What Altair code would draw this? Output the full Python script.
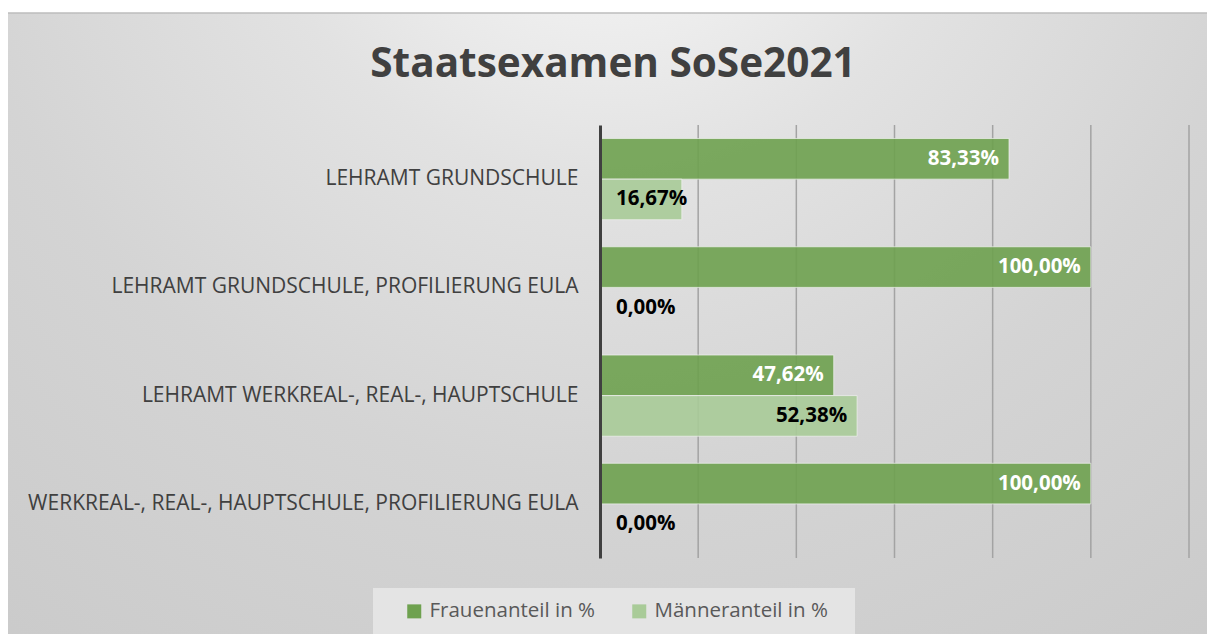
import altair as alt
import pandas as pd

categories = [
    "LEHRAMT GRUNDSCHULE",
    "LEHRAMT GRUNDSCHULE, PROFILIERUNG EULA",
    "LEHRAMT WERKREAL-, REAL-, HAUPTSCHULE",
    "WERKREAL-, REAL-, HAUPTSCHULE, PROFILIERUNG EULA",
]
series = ["Frauenanteil in %", "Männeranteil in %"]
frauen = [83.33, 100.00, 47.62, 100.00]
maenner = [16.67, 0.00, 52.38, 0.00]
grid_ticks = [20, 40, 60, 80, 100, 120]
title_text = "Staatsexamen SoSe2021"

rows = []
for i, c in enumerate(categories):
    for s, v in ((series[0], frauen[i]), (series[1], maenner[i])):
        rows.append({"cat": c, "series": s, "value": v,
                     "label": f"{v:.2f}".replace(".", ",") + "%"})
df = pd.DataFrame(rows)

W, H = 589, 433
PAD = {"left": 592, "top": 117, "right": 18, "bottom": 76}
FONT = "Open Sans"

one = pd.DataFrame({"a": [0]})

bg = alt.Chart(one).mark_rect(
    color=alt.RadialGradient(
        gradient="radial",
        x1=0.5, y1=0.08, r1=0.0,
        x2=0.5, y2=0.08, r2=1.0,
        stops=[
            alt.GradientStop(color="#fcfcfc", offset=0.0),
            alt.GradientStop(color="#e2e2e2", offset=0.3),
            alt.GradientStop(color="#d4d4d4", offset=0.55),
            alt.GradientStop(color="#c6c6c6", offset=1.0),
        ],
    ),
).encode(
    x=alt.value(-PAD["left"]), x2=alt.value(W + PAD["right"]),
    y=alt.value(-112), y2=alt.value(H + PAD["bottom"]),
)

topline = alt.Chart(one).mark_rule(color="#bdbdbd", strokeWidth=1.5).encode(
    x=alt.value(-PAD["left"]), x2=alt.value(W + PAD["right"]),
    y=alt.value(-112),
)

title = alt.Chart(pd.DataFrame({"t": [title_text]})).mark_text(
    font=FONT, fontSize=40.5, fontWeight="bold", color="#404040",
    align="center", baseline="middle",
).encode(x=alt.value(13), y=alt.value(-60), text="t:N")

legbox = alt.Chart(one).mark_rect(color="#e4e4e4").encode(
    x=alt.value(-227), x2=alt.value(255),
    y=alt.value(463), y2=alt.value(509),
)

xscale = alt.Scale(domain=[0, 120], nice=False, zero=True)

grid = alt.Chart(pd.DataFrame({"t": grid_ticks})).mark_rule(
    color="#a3a3a3", strokeWidth=1.5
).encode(x=alt.X("t:Q", scale=xscale, axis=None))

yenc = alt.Y(
    "cat:N", sort=categories, title=None,
    scale=alt.Scale(paddingInner=0.25, paddingOuter=0.125),
    axis=alt.Axis(
        labelFont=FONT, labelFontSize=21, labelColor="#404040",
        labelPadding=22, ticks=False, domainColor="#404040",
        domainWidth=3, labelLimit=800, zindex=1,
    ),
)
yoff = alt.YOffset("series:N", sort=series,
                   scale=alt.Scale(paddingInner=0, paddingOuter=0))

bars = alt.Chart(df).mark_bar(
    fillOpacity=0.9, stroke="#f2f2f2", strokeWidth=1, strokeOpacity=0.7
).encode(
    x=alt.X("value:Q", scale=xscale, axis=None),
    y=yenc,
    yOffset=yoff,
    color=alt.Color(
        "series:N", sort=series,
        scale=alt.Scale(domain=series, range=["#6ea14f", "#a9cb98"]),
        legend=alt.Legend(
            title=None, orient="none", legendX=-196, legendY=476,
            direction="horizontal", symbolType="square", symbolSize=196,
            symbolStrokeWidth=0, labelFont=FONT, labelFontSize=20.5,
            labelColor="#595959", labelOffset=5, columnPadding=34,
            labelLimit=400, padding=0,
        ),
    ),
)

txt_color = alt.condition(
    f"datum.series == '{series[0]}'", alt.value("white"), alt.value("black")
)

labels_big = alt.Chart(df).transform_filter("datum.value >= 30").mark_text(
    align="right", baseline="middle", dx=-10, font=FONT, fontSize=20.5,
    fontWeight="bold",
).encode(
    x=alt.X("value:Q", scale=xscale, axis=None),
    y=yenc, yOffset=yoff, text="label:N", color=txt_color,
)

labels_small = alt.Chart(df).transform_filter("datum.value < 30").mark_text(
    align="left", baseline="middle", font=FONT, fontSize=20.5,
    fontWeight="bold",
).encode(
    x=alt.value(16),
    y=yenc, yOffset=yoff, text="label:N", color=txt_color,
)

chart = alt.layer(
    bg, topline, title, legbox, grid, bars, labels_big, labels_small
).properties(
    width=W, height=H,
    padding=PAD,
    autosize=alt.AutoSizeParams(type="none"),
    background="white",
).configure_view(stroke=None)

chart.save("out.html", embed_options={"renderer": "svg", "actions": False})
